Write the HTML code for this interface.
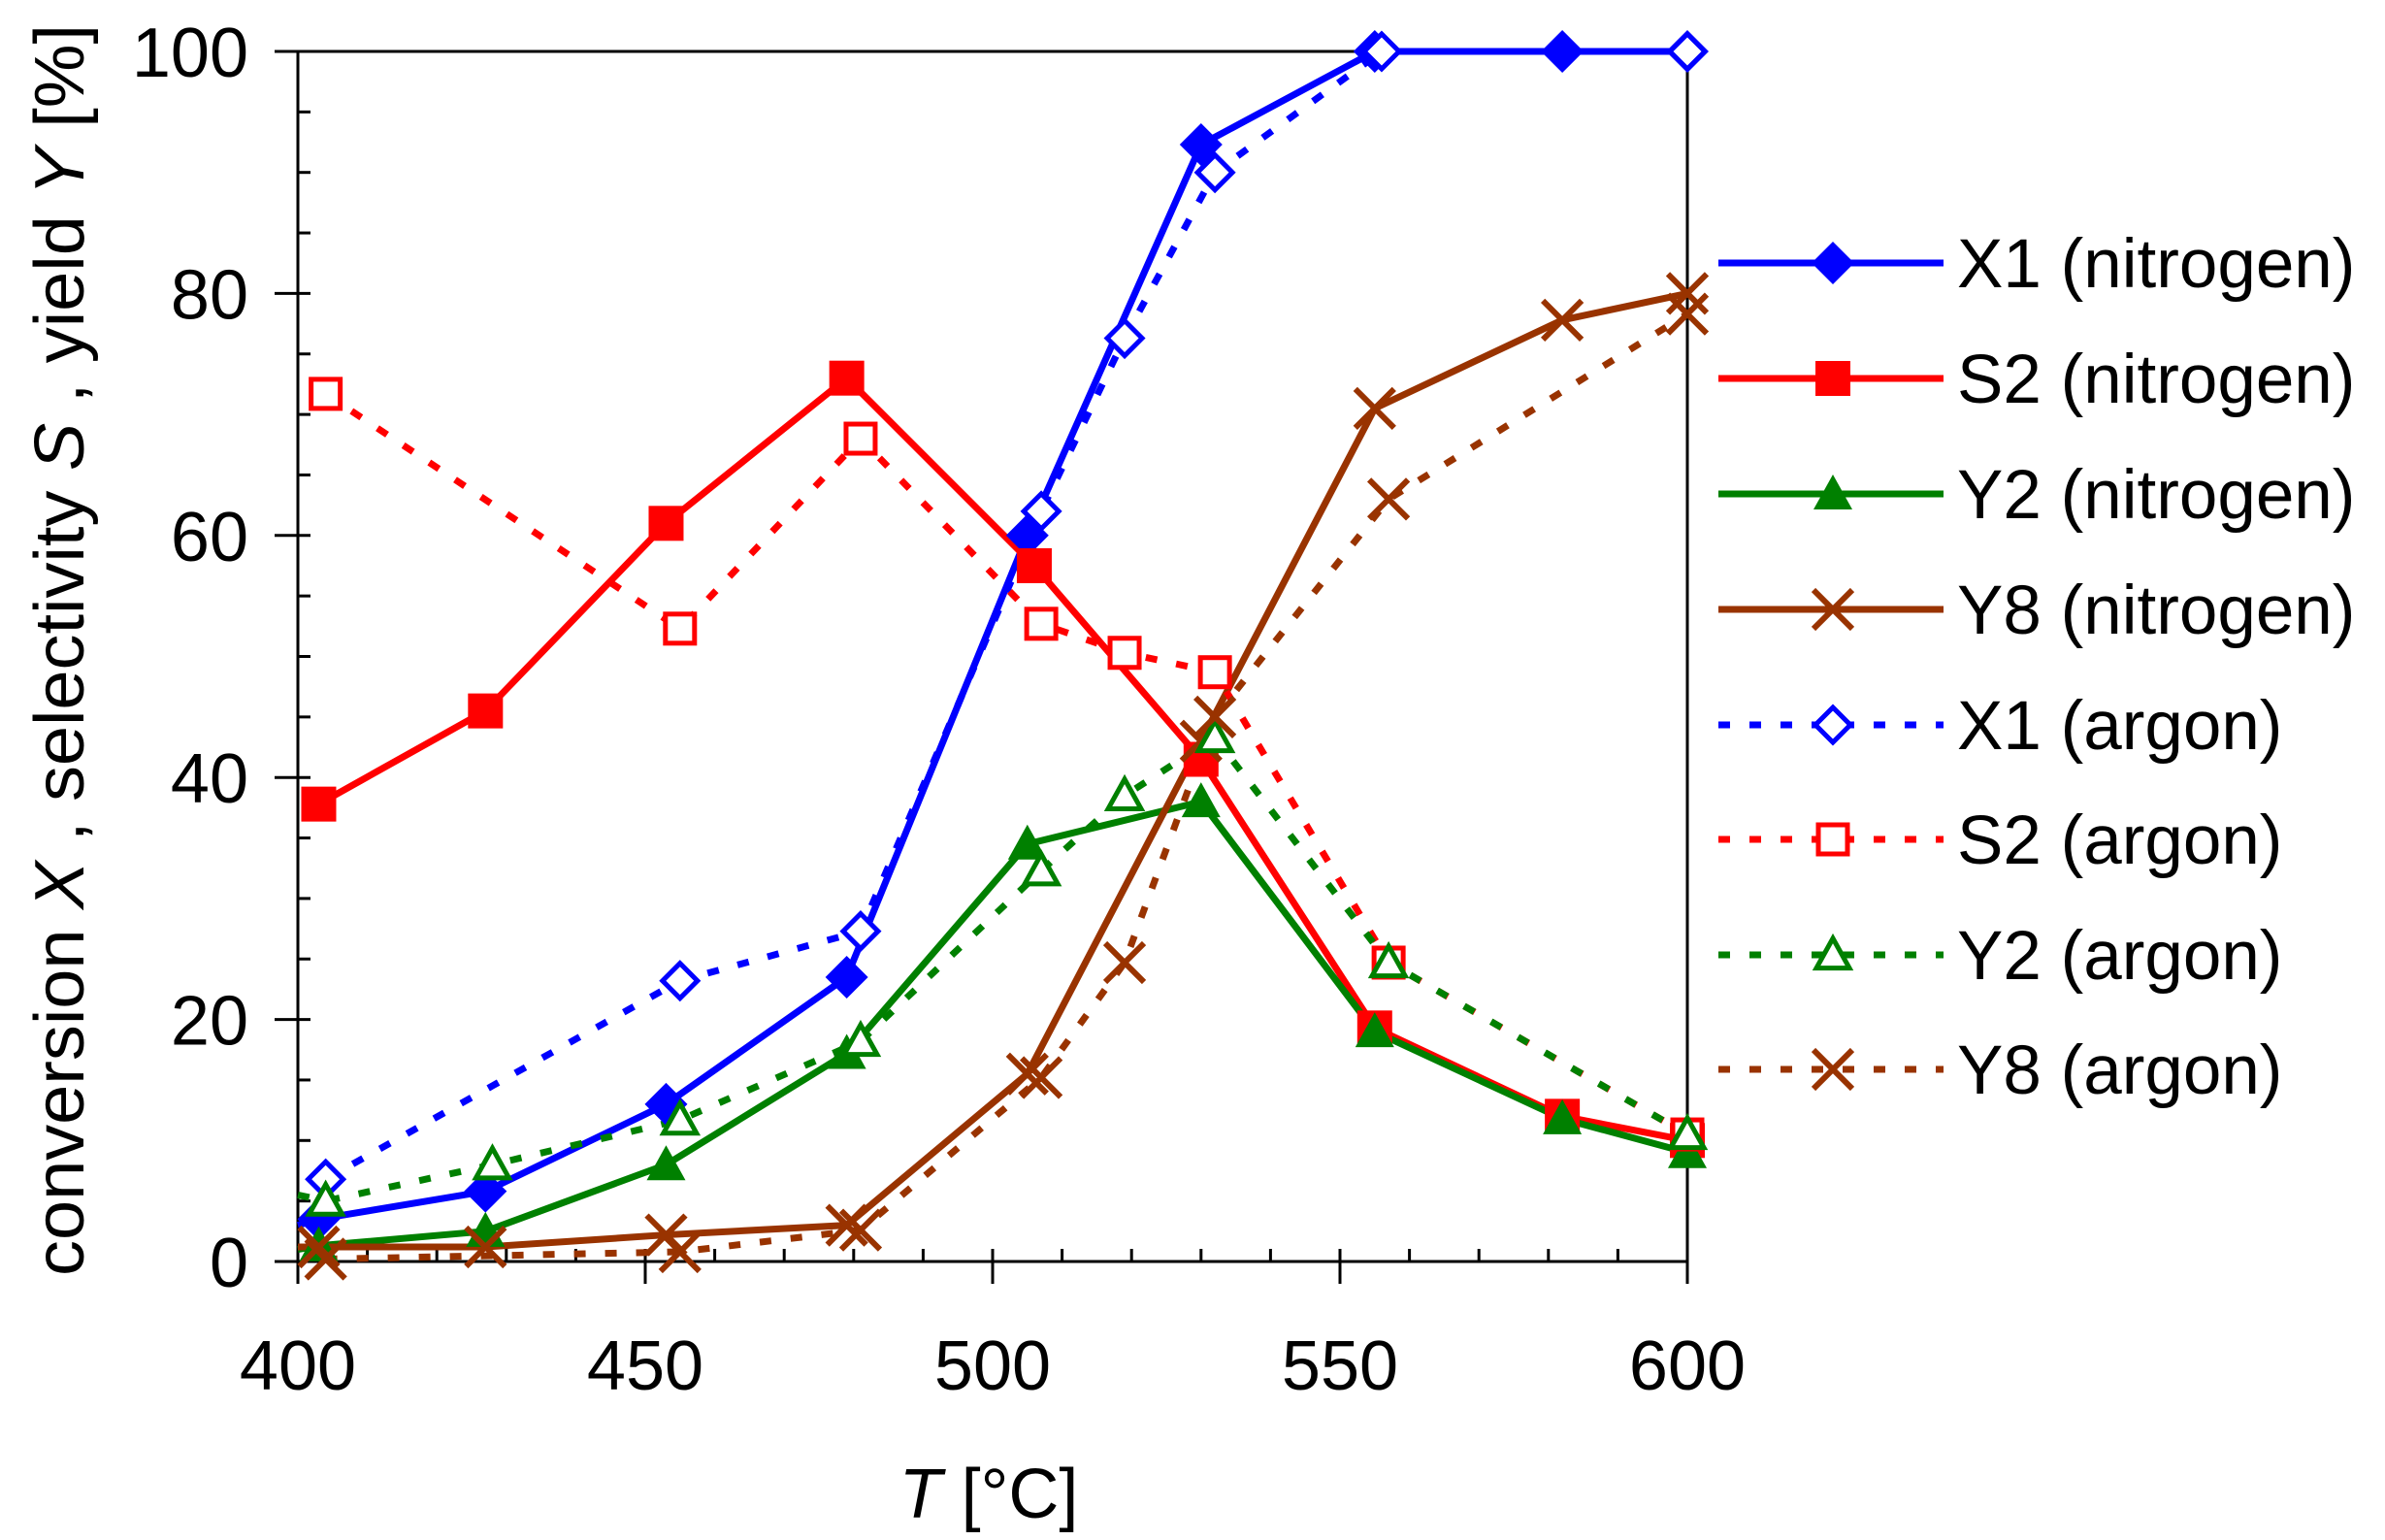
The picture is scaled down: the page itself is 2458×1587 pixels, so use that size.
<!DOCTYPE html>
<html><head><meta charset="utf-8"><style>
html,body{margin:0;padding:0;background:#fff;}
svg{display:block;font-family:"Liberation Sans",Arial,sans-serif;}
</style></head><body>
<svg id="c" width="2458" height="1587" viewBox="0 0 2458 1587" xmlns="http://www.w3.org/2000/svg"></svg>
<script>
const L=307,R=1739,T=53,B=1300;
const X=t=>L+(t-400)*(R-L)/200, Y=v=>B-v*(B-T)/100;
let s='';
for(let t=400;t<=600;t+=10){const x=X(t);
 if(t%50==0) s+=`<line x1="${x}" y1="${B-13}" x2="${x}" y2="${B+23}" stroke="#000" stroke-width="3"/>`;
 else s+=`<line x1="${x}" y1="${B-13}" x2="${x}" y2="${B}" stroke="#000" stroke-width="3"/>`;}
for(let v=0;v<=100;v+=5){const y=Y(v);
 if(v%20==0) s+=`<line x1="${L-24}" y1="${y}" x2="${L+13}" y2="${y}" stroke="#000" stroke-width="3"/>`;
 else s+=`<line x1="${L}" y1="${y}" x2="${L+13}" y2="${y}" stroke="#000" stroke-width="3"/>`;}
s+=`<rect x="${L}" y="${T}" width="${R-L}" height="${B-T}" fill="none" stroke="#000" stroke-width="3"/>`;
for(let v=0;v<=100;v+=20) s+=`<text x="256" y="${Y(v)+26}" font-size="72" text-anchor="end">${v}</text>`;
for(let t=400;t<=600;t+=50) s+=`<text x="${X(t)}" y="1432" font-size="72" text-anchor="middle">${t}</text>`;
s+=`<text x="1019" y="1564" font-size="72" text-anchor="middle"><tspan font-style="italic">T</tspan> [°C]</text>`;
s+=`<text transform="translate(86,670) rotate(-90)" font-size="72" text-anchor="middle" textLength="1290" lengthAdjust="spacingAndGlyphs">conversion <tspan font-style="italic">X</tspan> , selectivity <tspan font-style="italic">S</tspan> , yield <tspan font-style="italic">Y</tspan> [%]</text>`;
function mk(type,x,y,c,open){
 if(type=='d'){const h=open?18:22;return `<polygon points="${x},${y-h} ${x+h},${y} ${x},${y+h} ${x-h},${y}" fill="${open?'#fff':c}" stroke="${c}" stroke-width="${open?5:0}"/>`;}
 if(type=='s'){const h=open?15:18;return `<rect x="${x-h}" y="${y-h}" width="${2*h}" height="${2*h}" fill="${open?'#fff':c}" stroke="${c}" stroke-width="${open?5:0}"/>`;}
 if(type=='t'){const h=open?17:20;return `<polygon points="${x},${y-h} ${x+h},${y+h*0.8} ${x-h},${y+h*0.8}" fill="${open?'#fff':c}" stroke="${c}" stroke-width="${open?5:0}"/>`;}
 if(type=='x'){const h=20;return `<path d="M${x-h} ${y-h}L${x+h} ${y+h}M${x-h} ${y+h}L${x+h} ${y-h}" stroke="${c}" stroke-width="6"/>`;}
}
const BL='#0000ff',RD='#ff0000',GR='#008000',BR='#993300';
const series=[
 {c:BL,m:'d',o:0,start:[400,3],p:[[403,3.5],[427,5.8],[453,13],[479,23.5],[505,60],[530,92.3],[555,100],[582,100],[600,100]]},
 {c:RD,m:'s',o:0,p:[[403,37.8],[427,45.5],[453,61],[479,73],[506,57.5],[530,41.5],[555,19.3],[582,12],[600,10]]},
 {c:GR,m:'t',o:0,start:[400,1],p:[[403,1.3],[427,2.5],[453,8],[479,17.2],[505,34.5],[530,38],[555,19],[582,11.8],[600,9]]},
 {c:BR,m:'x',o:0,start:[400,1.2],p:[[403,1.2],[427,1.2],[453,2.2],[479,3],[505,15.5],[530,43],[555,70.5],[582,77.8],[600,80]]},
 {c:BL,m:'d',o:1,p:[[404,6.8],[455,23.2],[481,27.3],[507,62],[519,76.3],[532,90],[556,100],[600,100]]},
 {c:RD,m:'s',o:1,p:[[404,71.7],[455,52.3],[481,68],[507,52.7],[519,50.3],[532,48.7],[557,24.7],[600,10.5]]},
 {c:GR,m:'t',o:1,start:[400,5.5],p:[[404,5],[428,8],[455,11.7],[481,18.2],[507,32.3],[519,38.5],[532,43.3],[557,24.7],[600,10.5]]},
 {c:BR,m:'x',o:1,p:[[404,0.2],[455,0.8],[481,2.6],[507,15.2],[519,24.7],[532,45],[557,63],[600,78.3]]},
];
let lines='',marks='';
for(const se of series){
 const pts=(se.start?[se.start]:[]).concat(se.p).map(q=>X(q[0])+','+Y(q[1])).join(' ');
 lines+=`<polyline points="${pts}" fill="none" stroke="${se.c}" stroke-width="7" ${se.o?'stroke-dasharray="12 20"':''} stroke-linejoin="round"/>`;
 for(const q of se.p) marks+=mk(se.m,X(q[0]),Y(q[1]),se.c,se.o);
}
s+=lines+marks;
const names=['X1 (nitrogen)','S2 (nitrogen)','Y2 (nitrogen)','Y8 (nitrogen)','X1 (argon)','S2 (argon)','Y2 (argon)','Y8 (argon)'];
const ly=[271,390,509,628,747,865,984,1102];
series.forEach((se,i)=>{const y=ly[i];
 s+=`<line x1="1771" y1="${y}" x2="2003" y2="${y}" stroke="${se.c}" stroke-width="7" ${se.o?'stroke-dasharray="12 20"':''}/>`;
 s+=mk(se.m,1889,y,se.c,se.o);
 s+=`<text x="2017" y="${y+25}" font-size="71">${names[i]}</text>`;
});
document.getElementById('c').innerHTML=s;
</script>
</body></html>
